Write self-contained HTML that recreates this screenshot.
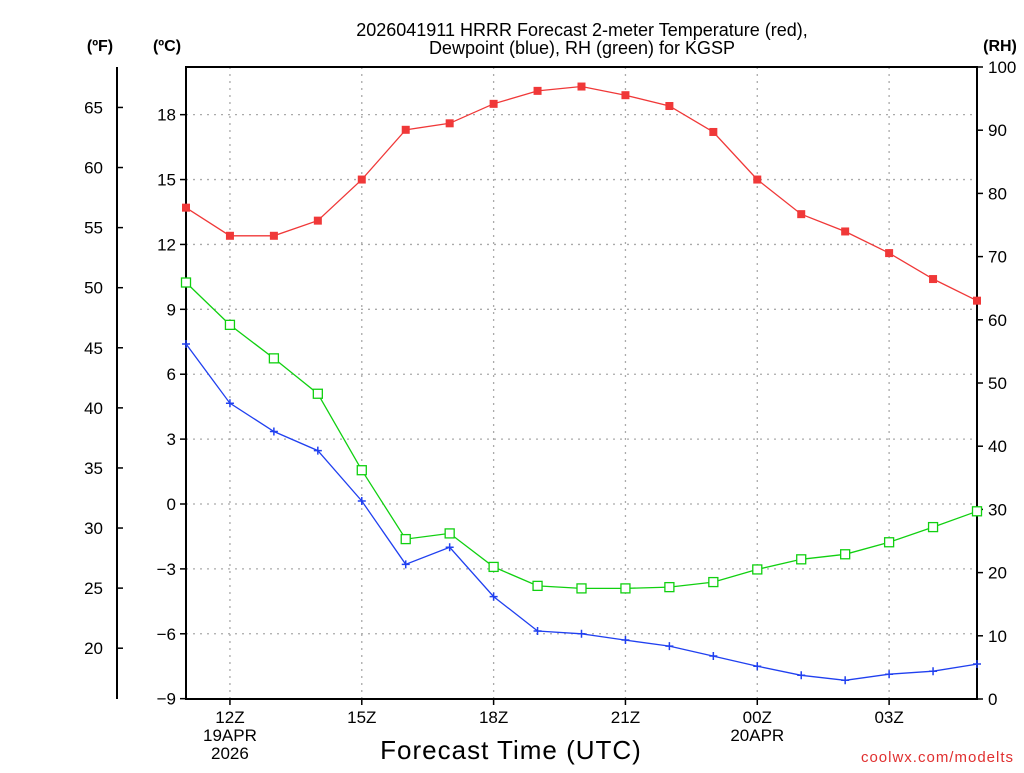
<!DOCTYPE html>
<html><head><meta charset="utf-8"><style>
body{margin:0;background:#fff;}
svg text{font-family:"Liberation Sans",sans-serif;}
</style></head><body>
<svg id="chart" width="1024" height="768" xmlns="http://www.w3.org/2000/svg">
<text x="582" y="36" font-size="18" text-anchor="middle">2026041911 HRRR Forecast 2-meter Temperature (red),</text>
<text x="582" y="54" font-size="18" text-anchor="middle">Dewpoint (blue), RH (green) for KGSP</text>
<text x="100" y="51" font-size="16" font-weight="bold" text-anchor="middle">(ºF)</text>
<text x="167" y="51" font-size="16" font-weight="bold" text-anchor="middle">(ºC)</text>
<text x="1000" y="51" font-size="16" font-weight="bold" text-anchor="middle">(RH)</text>
<text x="511" y="759" font-size="26" text-anchor="middle" letter-spacing="1">Forecast Time (UTC)</text>
<text x="1014" y="762" font-size="15" fill="#e03030" text-anchor="end" letter-spacing="1">coolwx.com/modelts</text>
<g id="grid"></g>
<g id="axes"></g>
<g id="series"></g>
</svg>
<script>
const hours=[11,12,13,14,15,16,17,18,19,20,21,22,23,24,25,26,27,28,29];
const tempC=[13.7,12.4,12.4,13.1,15.0,17.3,17.6,18.5,19.1,19.3,18.9,18.4,17.2,15.0,13.4,12.6,11.6,10.4,9.4];
const dewC=[7.4,4.66,3.35,2.47,0.14,-2.79,-2.0,-4.28,-5.87,-6.0,-6.29,-6.57,-7.03,-7.5,-7.92,-8.15,-7.87,-7.73,-7.4];
const rh=[65.9,59.2,53.9,48.3,36.2,25.3,26.2,20.9,17.9,17.5,17.5,17.7,18.5,20.5,22.1,22.9,24.8,27.2,29.7];
const cTicks=[18,15,12,9,6,3,0,-3,-6,-9];
const fTicks=[65,60,55,50,45,40,35,30,25,20];
const rhTicks=[0,10,20,30,40,50,60,70,80,90,100];
const xTickHours=[12,15,18,21,24,27];
const xTickLabels=["12Z","15Z","18Z","21Z","00Z","03Z"];
const xTickSub=[["19APR","2026"],[],[],[],["20APR"],[]];

const L=186,R=977,T=67,B=699;
const X=h=>L+(h-11)*(R-L)/18;
const YC=c=>504-c*21.63;
const YF=f=>YC((f-32)/1.8);
const YR=r=>B-r*(B-T)/100;
const NS="http://www.w3.org/2000/svg";
function mk(parent,tag,attrs,text){const e=document.createElementNS(NS,tag);for(const k in attrs)e.setAttribute(k,attrs[k]);if(text!==undefined)e.textContent=text;document.getElementById(parent).appendChild(e);return e;}
const dot={stroke:"#aaa","stroke-width":1.3,"stroke-dasharray":"2,5"};
cTicks.forEach(c=>{
  const l=mk("grid","line",Object.assign({x1:L,x2:R,y1:YC(c),y2:YC(c)},dot));
  
  
  const t=mk("axes","line",{x1:L-6,x2:L,y1:YC(c),y2:YC(c),stroke:"#000","stroke-width":1.5});
  
  
  const tx=mk("axes","text",{x:L-10,y:YC(c)+6,"font-size":17,"text-anchor":"end"},c<0?"\u2212"+(-c):String(c));
  
  
});
xTickHours.forEach((h,i)=>{
  const l=mk("grid","line",Object.assign({x1:X(h),x2:X(h),y1:T,y2:B},dot));
  
  
  const t=mk("axes","line",{x1:X(h),x2:X(h),y1:B,y2:B+6,stroke:"#000","stroke-width":1.5});
  
  
  const tx=mk("axes","text",{x:X(h),y:B+24,"font-size":17,"text-anchor":"middle"},xTickLabels[i]);
  
  
  xTickSub[i].forEach((s,j)=>{
    const st=mk("axes","text",{x:X(h),y:B+42+j*18,"font-size":17,"text-anchor":"middle"},s);
    
    
  });
});
fTicks.forEach(f=>{
  const t=mk("axes","line",{x1:117,x2:123,y1:YF(f),y2:YF(f),stroke:"#000","stroke-width":1.5});
  
  
  const tx=mk("axes","text",{x:103,y:YF(f)+6,"font-size":17,"text-anchor":"end"},String(f));
  
  
});
rhTicks.forEach(r=>{
  const t=mk("axes","line",{x1:R,x2:R+6,y1:YR(r),y2:YR(r),stroke:"#000","stroke-width":1.5});
  
  
  const tx=mk("axes","text",{x:988,y:YR(r)+6,"font-size":17,"text-anchor":"start"},String(r));
  
  
});
const fa=mk("axes","line",{x1:117,x2:117,y1:T,y2:B,stroke:"#000","stroke-width":2});


const fr=mk("axes","rect",{x:L,y:T,width:R-L,height:B-T,fill:"none",stroke:"#000","stroke-width":2});



function series(vals,yf,color,kind,name){
  const pts=vals.map((v,i)=>X(hours[i]).toFixed(1)+","+yf(v).toFixed(1)).join(" ");
  const pl=mk("series","polyline",{points:pts,fill:"none",stroke:color,"stroke-width":1.3});
  
  
  vals.forEach((v,i)=>{
    const x=X(hours[i]),y=yf(v);let m;
    if(kind==="fill")m=mk("series","rect",{x:x-4,y:y-4,width:8,height:8,fill:color});
    else if(kind==="open")m=mk("series","rect",{x:x-4.5,y:y-4.5,width:9,height:9,fill:"#fff",stroke:color,"stroke-width":1.3});
    else m=mk("series","path",{d:`M${x-4},${y}H${x+4}M${x},${y-4}V${y+4}`,stroke:color,"stroke-width":1.5});
    
    
  });
}
series(tempC,YC,"#f03838","fill","temperature");
series(rh,YR,"#10d010","open","rh");
series(dewC,YC,"#2040f0","plus","dewpoint");
</script>
</body></html>
